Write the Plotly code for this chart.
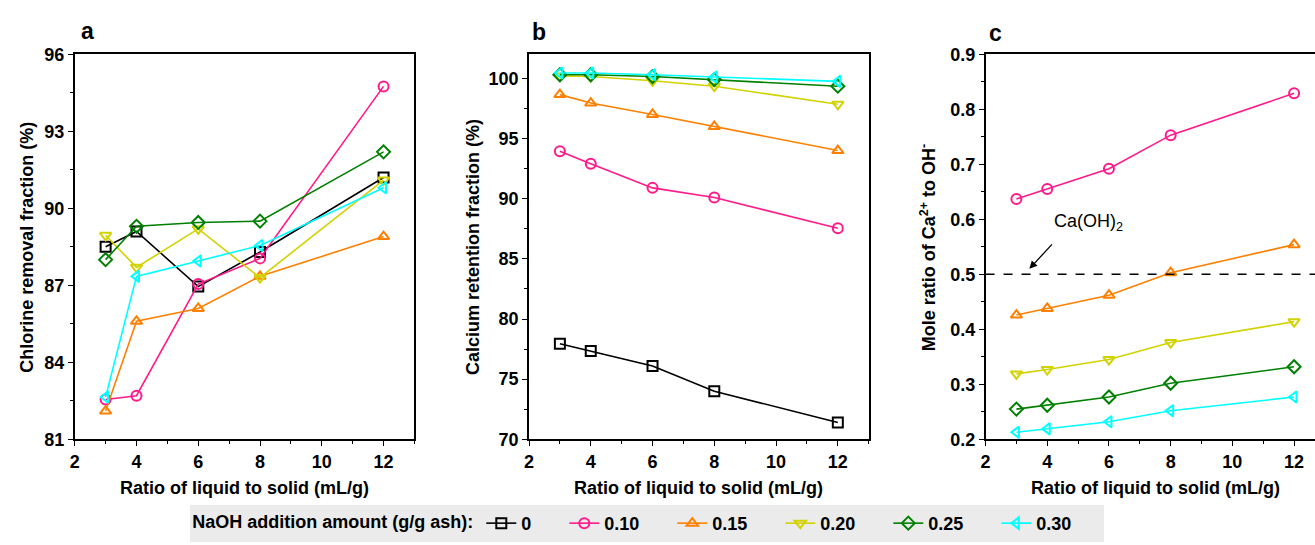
import plotly.graph_objects as go

# ---------------- data ----------------
ratio = [3, 4, 6, 8, 12]
series_names = ["0", "0.10", "0.15", "0.20", "0.25", "0.30"]

# panel a: chlorine removal fraction (%)
a_0 = [88.5, 89.1, 86.95, 88.3, 91.2]
a_010 = [82.55, 82.7, 87.05, 88.05, 94.75]
a_015 = [82.1, 85.6, 86.1, 87.35, 88.9]
a_020 = [88.95, 87.7, 89.2, 87.3, 91.1]
a_025 = [88.0, 89.3, 89.45, 89.5, 92.2]
a_030 = [82.65, 87.35, 87.95, 88.55, 90.8]

# panel b: calcium retention fraction (%)
b_0 = [77.95, 77.35, 76.1, 74.0, 71.4]
b_010 = [93.95, 92.9, 90.9, 90.1, 87.55]
b_015 = [98.65, 97.95, 97.0, 96.0, 94.0]
b_020 = [100.2, 100.15, 99.8, 99.35, 97.85]
b_025 = [100.3, 100.3, 100.15, 99.9, 99.35]
b_030 = [100.45, 100.45, 100.3, 100.1, 99.75]

# panel c: mole ratio of Ca2+ to OH-
c_010 = [0.637, 0.655, 0.692, 0.753, 0.829]
c_015 = [0.426, 0.438, 0.462, 0.503, 0.554]
c_020 = [0.319, 0.327, 0.345, 0.376, 0.414]
c_025 = [0.255, 0.262, 0.277, 0.302, 0.332]
c_030 = [0.213, 0.219, 0.232, 0.252, 0.277]
ca_oh2_ratio = 0.5

# ---------------- styles ----------------
colors = ["#000000", "#FF1A8C", "#FF8000", "#D2D200", "#008000", "#00FFFF"]
symbols = ["square-open", "circle-open", "triangle-up-open",
           "triangle-down-open", "diamond-open", "triangle-left-open"]
legend_widths = [38, 63, 63, 63, 63, 63]
FONT = "Arial, 'Liberation Sans', sans-serif"
FS = 18

fig = go.Figure()

panels = [
    ("x", "y", [a_0, a_010, a_015, a_020, a_025, a_030], False),
    ("x2", "y2", [b_0, b_010, b_015, b_020, b_025, b_030], True),
    ("x3", "y3", [None, c_010, c_015, c_020, c_025, c_030], False),
]
for xa, ya, data, show in panels:
    for i, vals in enumerate(data):
        if vals is None:
            continue
        fig.add_trace(go.Scatter(
            x=ratio, y=vals, xaxis=xa, yaxis=ya,
            mode="lines+markers", name=series_names[i],
            legendgroup=series_names[i], showlegend=show,
            legendwidth=legend_widths[i],
            line=dict(color=colors[i], width=1.6),
            marker=dict(symbol=symbols[i], size=10, color=colors[i],
                        line=dict(color=colors[i], width=2)),
            cliponaxis=False,
        ))

W, H = 1315, 545
top_px, bot_px = 46, 445.7
ydom = [(H - bot_px) / H, (H - top_px) / H]
xdoms = [[70 / W, 411 / W], [526 / W, 867 / W], [984.3 / W, 1.0]]

tickfont = dict(family=FONT, size=FS, color="black", weight="bold")


def xaxis(dom, rng, anchor, mirror=True):
    return dict(domain=dom, range=rng, anchor=anchor, tickmode="linear",
                tick0=2, dtick=2, ticks="outside", ticklen=5, tickwidth=1.3,
                tickcolor="black", showline=True, linecolor="black",
                linewidth=1.5, mirror=mirror, showgrid=False, zeroline=False,
                tickfont=tickfont,
                minor=dict(dtick=1, tick0=2, ticks="outside", ticklen=3,
                           tickwidth=1, tickcolor="black"))


def yaxis(rng, anchor, tick0, dtick, minor, mirror=True, fmt=None):
    d = dict(domain=ydom, range=rng, anchor=anchor, tickmode="linear",
             tick0=tick0, dtick=dtick, ticks="outside", ticklen=5,
             tickwidth=1.3, tickcolor="black", showline=True,
             linecolor="black", linewidth=1.5, mirror=mirror,
             showgrid=False, zeroline=False, tickfont=tickfont,
             minor=dict(dtick=minor, ticks="outside", ticklen=3,
                        tickwidth=1, tickcolor="black"))
    if fmt:
        d["tickformat"] = fmt
    return d


fig.update_layout(
    width=W, height=H,
    margin=dict(l=0, r=0, t=0, b=0),
    paper_bgcolor="white", plot_bgcolor="white",
    font=dict(family=FONT, color="black"),
    xaxis=xaxis(xdoms[0], [2, 13], "y"),
    yaxis=yaxis([81, 96], "x", 81, 3, 1.5),
    xaxis2=xaxis(xdoms[1], [2, 13], "y2"),
    yaxis2=yaxis([70, 102], "x2", 70, 5, 2.5),
    xaxis3=xaxis(xdoms[2], [2, 2 + (W - 984.3) / 30.97], "y3", mirror=True),
    yaxis3=yaxis([0.2, 0.9], "x3", 0.2, 0.1, 0.05, mirror=False, fmt=".1f"),
    legend=dict(
        orientation="h", x=186 / W, xanchor="left", y=(H - 533) / H,
        yanchor="middle", bgcolor="#ebebeb", borderwidth=0,
        font=dict(family=FONT, size=FS, color="black", weight="bold"),
        title=dict(text="NaOH addition amount (g/g ash):", side="left",
                   font=dict(family=FONT, size=FS, color="black",
                             weight="bold")),
        itemwidth=30, tracegroupgap=0,
    ),
)

# Ca(OH)2 reference line
fig.add_shape(type="line", xref="x3 domain", yref="y3", x0=0, x1=1,
              y0=ca_oh2_ratio, y1=ca_oh2_ratio,
              line=dict(color="black", width=1.5, dash="dash"))

ann = []
# arrow for Ca(OH)2
ann.append(dict(xref="x3", yref="y3", x=3.42, y=0.51, ax=24, ay=-26,
                axref="pixel", ayref="pixel", text="", showarrow=True,
                arrowhead=2, arrowsize=1.2, arrowwidth=1.3,
                arrowcolor="black"))
ann.append(dict(xref="paper", yref="paper", x=1088 / W, y=(H - 221) / H,
                text="Ca(OH)<sub>2</sub>", showarrow=False,
                font=dict(family=FONT, size=18, color="black"),
                xanchor="center", yanchor="middle"))

# panel letters
for lbl, px, py in [("a", 83, 22), ("b", 536, 23), ("c", 994, 24)]:
    ann.append(dict(xref="paper", yref="paper", x=px / W, y=(H - py) / H,
                    text="<b>%s</b>" % lbl, showarrow=False,
                    font=dict(family=FONT, size=23, color="black"),
                    xanchor="center", yanchor="middle"))

# x-axis titles
xt_centers = [(70 + 411) / 2, (526 + 867) / 2, (984.3 + 1325) / 2]
for cx in xt_centers:
    ann.append(dict(xref="paper", yref="paper", x=cx / W,
                    y=(H - 496) / H, text="<b>Ratio of liquid to solid (mL/g)</b>",
                    showarrow=False, font=dict(family=FONT, size=FS, color="black"),
                    xanchor="center", yanchor="middle"))

# y-axis titles
ymid = (ydom[0] + ydom[1]) / 2
for txt, px in [("Chlorine removal fraction (%)", 22),
                ("Calcium retention fraction (%)", 470),
                ("Mole ratio of Ca<sup>2+</sup> to OH<sup>-</sup>", 927)]:
    ann.append(dict(xref="paper", yref="paper", x=px / W, y=ymid,
                    text="<b>%s</b>" % txt, showarrow=False, textangle=-90,
                    font=dict(family=FONT, size=FS, color="black"),
                    xanchor="center", yanchor="middle"))

fig.update_layout(annotations=ann)
fig.write_html("out.html")
